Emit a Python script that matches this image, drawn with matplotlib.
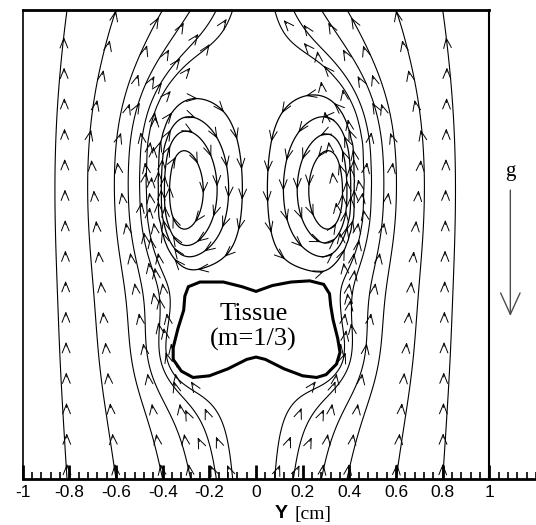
import numpy as np
import matplotlib
matplotlib.use("Agg")
import matplotlib.pyplot as plt
from matplotlib.path import Path

# streamline start points along the bottom edge (Y, cm)
seeds_left = [-0.81, -0.60, -0.40, -0.28, -0.17, -0.10]
seeds_right = [0.08, 0.16, 0.28, 0.39, 0.60, 0.80]

# one point on the inner side of each recirculation loop, at vortex height
loop_x_left = [-0.23, -0.17, -0.125, -0.06]
loop_x_right = [0.05, 0.125, 0.175, 0.23]
loop_y = 1.18

# vortex pair and the recirculation bubble that holds them
vortex_x = [-0.36, 0.36]
vortex_y = [1.2, 1.2]
vortex_sign = [1, -1]
bubble_cy = 1.27
bubble_a = 0.44
bubble_b = 0.52

# tissue outline
tissue_x = [0.00, 0.07, 0.15, 0.23, 0.29, 0.315, 0.32, 0.33, 0.35, 0.36, 0.345, 0.30, 0.26,
            0.20, 0.12, 0.04, 0.00, -0.04, -0.12, -0.20, -0.27, -0.32, -0.355, -0.355,
            -0.335, -0.31, -0.305, -0.29, -0.24, -0.14, -0.06, 0.00]
tissue_y = [0.80, 0.825, 0.84, 0.845, 0.83, 0.79, 0.74, 0.68, 0.60, 0.54, 0.49, 0.445, 0.433,
            0.44, 0.47, 0.51, 0.52, 0.51, 0.47, 0.44, 0.433, 0.46, 0.51, 0.56,
            0.64, 0.72, 0.78, 0.82, 0.84, 0.84, 0.82, 0.80]

tick_major = [-1, -0.8, -0.6, -0.4, -0.2, 0, 0.2, 0.4, 0.6, 0.8, 1]
tick_labels = ['-1', '-0.8', '-0.6', '-0.4', '-0.2', '0', '0.2', '0.4', '0.6', '0.8', '1']
tick_minor = np.arange(-1, 1.2001, 0.04)

# ---- grid
h = 0.01
xs = np.linspace(-1, 1, 201)
ys = np.linspace(0, 2, 201)
X, Y = np.meshgrid(xs, ys)

pts = np.column_stack([X.ravel(), Y.ravel()])
tissue = Path(np.column_stack([tissue_x, tissue_y])).contains_points(pts).reshape(X.shape)
bubble = (np.abs(X / bubble_a) ** 2.6 + np.abs((Y - bubble_cy) / bubble_b) ** 2.6) <= 1
core = bubble.copy()
core[1:-1, 1:-1] = (bubble[1:-1, 1:-1] & bubble[:-2, 1:-1] & bubble[2:, 1:-1]
                    & bubble[1:-1, :-2] & bubble[1:-1, 2:])
centre = np.abs(X) < h / 2

edge = np.zeros_like(bubble)
edge[0, :] = edge[-1, :] = edge[:, 0] = edge[:, -1] = True

ii, jj = np.indices(X.shape)


def relax(q, free, src, k2, n=2500, w=1.9):
    masks = [(free & ((ii + jj) % 2 == c))[1:-1, 1:-1].astype(float) for c in (0, 1)]
    rhs = h * h * src[1:-1, 1:-1]
    den = 4.0 + k2 * h * h
    for _ in range(n):
        for m in masks:
            nb = (q[:-2, 1:-1] + q[2:, 1:-1] + q[1:-1, :-2] + q[1:-1, 2:] - rhs) / den
            c = q[1:-1, 1:-1]
            c += w * (nb - c) * m
    return q


# outside: disturbance of the uniform upward flow, decaying away from the blockage
blocked = bubble | tissue
phi = np.where(blocked, X, 0.0)
phi = relax(phi, ~(blocked | edge), np.zeros_like(X), k2=12.0)
psi_outer = -X + phi

# inside the bubble: counter-rotating vortex pair
src = np.zeros_like(X)
for vx, vy, sg in zip(vortex_x, vortex_y, vortex_sign):
    src += sg * np.exp(-0.5 * ((X - vx) / 0.06) ** 2 - 0.5 * ((Y - vy) / 0.25) ** 2)
free_in = core & ~tissue & ~centre
src[~free_in] = 0.0
psi_inner = relax(np.zeros_like(X), free_in, 20.0 * src, k2=0.0)

psi = np.where(bubble | tissue, psi_inner, psi_outer)
dpdy, dpdx = np.gradient(psi, h, h)
U = dpdy
V = -dpdx

# ---- figure
plt.rcParams['font.family'] = 'Liberation Sans'
fig = plt.figure(figsize=(5.36, 5.25), dpi=100)
ax = fig.add_axes([22.7 / 536, 46 / 525, 513.3 / 536, 469 / 525])

out_levels = sorted(-np.array(seeds_left + seeds_right))
cs_out = ax.contour(X, Y, np.ma.masked_where(blocked, psi_outer), levels=out_levels,
                    colors='k', linewidths=0.8, linestyles='solid')

loop_levels = []
for lx in loop_x_left + loop_x_right:
    loop_levels.append(psi_inner[int(round(loop_y / h)), int(round((lx + 1) / h))])
cs_in = ax.contour(X, Y, np.ma.masked_where(~bubble, psi_inner), levels=sorted(loop_levels),
                   colors='k', linewidths=0.9, linestyles='solid')


def add_arrows(cs, spacing=0.13):
    for p in cs.get_paths():
        for seg in p.to_polygons(closed_only=False):
            if len(seg) < 3:
                continue
            d = np.diff(seg, axis=0)
            ln = np.hypot(d[:, 0], d[:, 1])
            cum = np.concatenate([[0], np.cumsum(ln)])
            for s in np.arange(spacing * 0.5, cum[-1], spacing):
                k = int(np.clip(np.searchsorted(cum, s) - 1, 0, len(d) - 1))
                if ln[k] == 0:
                    continue
                t = d[k] / ln[k]
                pt = seg[k] + t * (s - cum[k])
                iy = int(round(np.clip(pt[1], 0, 2) / h))
                ix = int(round((np.clip(pt[0], -1, 1) + 1) / h))
                if t[0] * U[iy, ix] + t[1] * V[iy, ix] < 0:
                    t = -t
                ax.annotate('', xy=pt, xytext=pt - t * 0.02,
                            arrowprops=dict(arrowstyle='->,head_length=0.7,head_width=0.28',
                                            color='k', lw=0.7, shrinkA=0, shrinkB=0))


add_arrows(cs_out)
add_arrows(cs_in)

ax.fill(tissue_x, tissue_y, facecolor='white', edgecolor='k', lw=2.2, zorder=3)
ax.text(-0.01, 0.648, 'Tissue\n(m=1/3)', ha='center', va='center', fontsize=19,
        family='Liberation Serif', linespacing=1.15, zorder=4)

# gravity arrow
ax.text(1.09, 1.31, 'g', ha='center', va='center', fontsize=15, family='Liberation Serif')
ax.annotate('', xy=(1.09, 0.695), xytext=(1.09, 1.232), annotation_clip=False,
            arrowprops=dict(arrowstyle='->,head_length=1.1,head_width=0.5', color='0.3',
                            lw=1.0, shrinkA=0, shrinkB=0, mutation_scale=14))

ax.set_xlim(-1, 1.2)
ax.set_ylim(0, 2)
ax.set_xticks(tick_major)
ax.set_xticklabels(tick_labels)
ax.set_xticks(tick_minor, minor=True)
ax.tick_params(axis='x', which='major', direction='in', length=10, width=2, pad=4, labelsize=12.5)
ax.tick_params(axis='x', which='minor', direction='in', length=5, width=1.2)
ax.tick_params(axis='y', which='both', left=False, labelleft=False)
ax.spines['bottom'].set_linewidth(2)
ax.spines['top'].set_linewidth(2)
ax.spines['top'].set_bounds(-1, 1)
ax.spines['left'].set_linewidth(1.2)
ax.spines['right'].set_linewidth(1.5)
ax.spines['right'].set_position(('data', 1.0))

fig.text(275 / 536, 1 - 518.5 / 525, 'Y', fontsize=14, fontweight='bold', va='baseline')
fig.text(294 / 536, 1 - 518.5 / 525, '[cm]', fontsize=14, family='Liberation Serif',
         va='baseline')

fig.savefig('out.png', dpi=100)
